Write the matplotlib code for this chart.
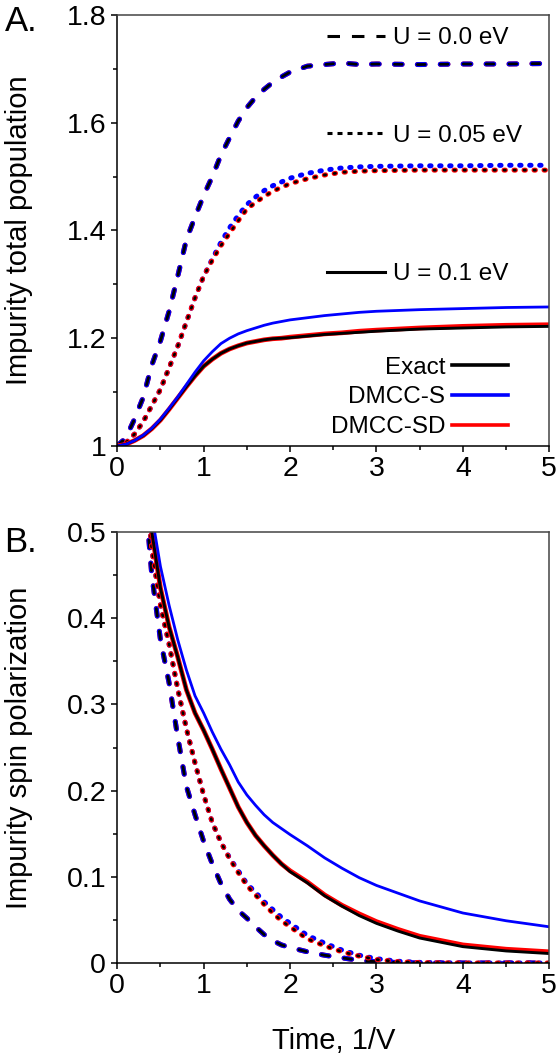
import numpy as np
from matplotlib import pyplot as plt
from matplotlib.lines import Line2D
from matplotlib.ticker import MultipleLocator, FormatStrFormatter

plt.rcParams['font.family'] = ['Liberation Sans', 'DejaVu Sans']
plt.rcParams['lines.scale_dashes'] = False

# Panel A: impurity total population
t_a = [0, 0.1, 0.2, 0.3, 0.4, 0.5, 0.6, 0.7, 0.8, 0.9, 1.0, 1.1, 1.2, 1.3, 1.4,
       1.5, 1.6, 1.7, 1.8, 1.9, 2.0, 2.2, 2.4, 2.6, 2.8, 3.0, 3.5, 4.0, 4.5, 5.0]

pop_u00_exact = [1.0, 1.015, 1.05, 1.09, 1.15, 1.195, 1.25, 1.315, 1.383, 1.425, 1.465, 1.50, 1.54, 1.572, 1.603,
                 1.628, 1.647, 1.662, 1.675, 1.685, 1.694, 1.705, 1.708, 1.711, 1.708, 1.709, 1.708, 1.709, 1.709, 1.710]
pop_u00_s = [1.0, 1.015, 1.05, 1.09, 1.15, 1.195, 1.25, 1.315, 1.383, 1.425, 1.465, 1.50, 1.54, 1.572, 1.603,
             1.628, 1.647, 1.662, 1.675, 1.685, 1.694, 1.705, 1.708, 1.711, 1.708, 1.709, 1.708, 1.709, 1.709, 1.710]
pop_u00_sd = [1.0, 1.015, 1.05, 1.09, 1.15, 1.195, 1.25, 1.315, 1.383, 1.425, 1.465, 1.50, 1.54, 1.572, 1.603,
              1.628, 1.647, 1.662, 1.675, 1.685, 1.694, 1.705, 1.708, 1.711, 1.708, 1.709, 1.708, 1.709, 1.709, 1.710]

pop_u05_exact = [1.0, 1.006, 1.022, 1.045, 1.075, 1.105, 1.145, 1.185, 1.23, 1.275, 1.315, 1.345, 1.372, 1.395, 1.418,
                 1.44, 1.452, 1.463, 1.473, 1.48, 1.487, 1.496, 1.503, 1.508, 1.510, 1.511, 1.512, 1.512, 1.512, 1.512]
pop_u05_s = [1.0, 1.006, 1.022, 1.045, 1.075, 1.105, 1.145, 1.185, 1.23, 1.275, 1.315, 1.347, 1.378, 1.405, 1.428,
             1.448, 1.462, 1.474, 1.483, 1.49, 1.497, 1.506, 1.512, 1.516, 1.518, 1.519, 1.520, 1.520, 1.521, 1.521]
pop_u05_sd = [1.0, 1.006, 1.022, 1.045, 1.075, 1.105, 1.145, 1.185, 1.23, 1.275, 1.315, 1.345, 1.372, 1.395, 1.418,
              1.44, 1.452, 1.463, 1.473, 1.48, 1.487, 1.496, 1.503, 1.508, 1.510, 1.511, 1.512, 1.512, 1.512, 1.512]

pop_u10_exact = [1.0, 1.003, 1.01, 1.019, 1.032, 1.048, 1.068, 1.089, 1.11, 1.13, 1.148, 1.161, 1.172, 1.18, 1.186,
                 1.191, 1.194, 1.197, 1.199, 1.20, 1.201, 1.204, 1.207, 1.209, 1.211, 1.213, 1.217, 1.219, 1.221, 1.222]
pop_u10_s = [1.0, 1.003, 1.01, 1.02, 1.033, 1.05, 1.07, 1.091, 1.114, 1.137, 1.158, 1.175, 1.19, 1.20, 1.208,
             1.214, 1.219, 1.224, 1.228, 1.231, 1.234, 1.238, 1.242, 1.245, 1.248, 1.250, 1.253, 1.255, 1.257, 1.258]
pop_u10_sd = [1.0, 1.003, 1.01, 1.019, 1.032, 1.048, 1.068, 1.089, 1.11, 1.13, 1.148, 1.161, 1.172, 1.18, 1.186,
              1.191, 1.194, 1.197, 1.199, 1.20, 1.202, 1.205, 1.208, 1.21, 1.213, 1.215, 1.219, 1.222, 1.224, 1.225]

# Panel B: impurity spin polarization
t_b = [0.3, 0.4, 0.5, 0.6, 0.7, 0.8, 0.9, 1.0, 1.1, 1.2, 1.3, 1.4, 1.5, 1.6, 1.7, 1.8, 1.9, 2.0,
       2.2, 2.4, 2.6, 2.8, 3.0, 3.25, 3.5, 4.0, 4.5, 5.0]

spin_u00_exact = [0.57, 0.45, 0.375, 0.325, 0.262, 0.205, 0.172, 0.141, 0.115, 0.092, 0.074, 0.061, 0.052, 0.042,
                  0.033, 0.026, 0.021, 0.018, 0.013, 0.009, 0.006, 0.003, 0.0015, 0.0005, 0, 0, 0, 0]
spin_u00_s = [0.57, 0.45, 0.375, 0.325, 0.262, 0.205, 0.172, 0.141, 0.115, 0.092, 0.074, 0.061, 0.052, 0.042,
              0.033, 0.026, 0.021, 0.018, 0.013, 0.009, 0.006, 0.003, 0.0015, 0.0005, 0, 0, 0, 0]
spin_u00_sd = [0.57, 0.45, 0.375, 0.325, 0.262, 0.205, 0.172, 0.141, 0.115, 0.092, 0.074, 0.061, 0.052, 0.042,
               0.033, 0.026, 0.021, 0.018, 0.013, 0.009, 0.006, 0.003, 0.0015, 0.0005, 0, 0, 0, 0]

spin_u05_exact = [0.6, 0.48, 0.415, 0.37, 0.318, 0.272, 0.232, 0.195, 0.163, 0.14, 0.121, 0.105, 0.09, 0.079,
                  0.068, 0.058, 0.049, 0.042, 0.028, 0.02, 0.013, 0.008, 0.004, 0.0015, 0.0005, 0, 0, 0]
spin_u05_s = [0.6, 0.48, 0.415, 0.37, 0.318, 0.272, 0.232, 0.195, 0.163, 0.14, 0.122, 0.107, 0.092, 0.082,
              0.071, 0.062, 0.053, 0.046, 0.032, 0.023, 0.015, 0.009, 0.005, 0.002, 0.0007, 0, 0, 0]
spin_u05_sd = [0.6, 0.48, 0.415, 0.37, 0.318, 0.272, 0.232, 0.195, 0.163, 0.14, 0.121, 0.105, 0.09, 0.079,
               0.068, 0.058, 0.049, 0.042, 0.028, 0.02, 0.013, 0.008, 0.004, 0.0015, 0.0005, 0, 0, 0]

spin_u10_exact = [0.58, 0.50, 0.435, 0.39, 0.355, 0.317, 0.29, 0.27, 0.248, 0.225, 0.203, 0.181, 0.163, 0.148,
                  0.136, 0.125, 0.115, 0.106, 0.093, 0.078, 0.066, 0.055, 0.046, 0.037, 0.029, 0.019, 0.014, 0.011]
spin_u10_s = [0.6, 0.52, 0.46, 0.415, 0.375, 0.34, 0.31, 0.29, 0.268, 0.248, 0.23, 0.21, 0.195, 0.183,
              0.172, 0.163, 0.156, 0.149, 0.136, 0.122, 0.110, 0.099, 0.090, 0.081, 0.072, 0.058, 0.049, 0.042]
spin_u10_sd = [0.58, 0.50, 0.435, 0.39, 0.355, 0.317, 0.29, 0.27, 0.248, 0.225, 0.203, 0.181, 0.163, 0.148,
               0.136, 0.125, 0.115, 0.107, 0.094, 0.079, 0.067, 0.057, 0.048, 0.039, 0.031, 0.021, 0.016, 0.013]

long_dash = (5.5, 11.0)
short_dash = (1.0, 6.2)

fig = plt.figure(figsize=(5.57, 10.55), dpi=100)
ax_a = fig.add_axes([0.2105, 0.5773, 0.7757, 0.4085])
ax_b = fig.add_axes([0.2105, 0.0872, 0.7757, 0.4085])


def draw_set(ax, t, exact, s, sd, dashes):
    if dashes is None:
        ax.plot(t, sd, c='red', lw=3.4)
        ax.plot(t, exact, c='black', lw=2.1)
        ax.plot(t, s, c='blue', lw=2.0)
    else:
        order = [(sd, 'red'), (s, 'blue')] if dashes == long_dash else [(s, 'blue'), (sd, 'red')]
        for y, c in order:
            ax.plot(t, y, c=c, lw=3.6, dashes=dashes, dash_capstyle='round')
        ax.plot(t, exact, c='black', lw=2.0, dashes=dashes, dash_capstyle='round')


draw_set(ax_a, t_a, pop_u00_exact, pop_u00_s, pop_u00_sd, long_dash)
draw_set(ax_a, t_a, pop_u05_exact, pop_u05_s, pop_u05_sd, short_dash)
draw_set(ax_a, t_a, pop_u10_exact, pop_u10_s, pop_u10_sd, None)

draw_set(ax_b, t_b, spin_u00_exact, spin_u00_s, spin_u00_sd, long_dash)
draw_set(ax_b, t_b, spin_u05_exact, spin_u05_s, spin_u05_sd, short_dash)
draw_set(ax_b, t_b, spin_u10_exact, spin_u10_s, spin_u10_sd, None)

ax_a.set_xlim(0, 5)
ax_a.set_ylim(1, 1.8)
ax_a.yaxis.set_major_locator(MultipleLocator(0.2))
ax_a.yaxis.set_minor_locator(MultipleLocator(0.1))
ax_b.set_xlim(0, 5)
ax_b.set_ylim(0, 0.5)
ax_b.yaxis.set_major_locator(MultipleLocator(0.1))
ax_b.yaxis.set_minor_locator(MultipleLocator(0.05))

for ax in (ax_a, ax_b):
    ax.xaxis.set_major_locator(MultipleLocator(1))
    ax.xaxis.set_minor_locator(MultipleLocator(0.5))
    ax.yaxis.set_major_formatter(FormatStrFormatter('%g'))
    ax.tick_params(which='both', direction='out', top=False, right=False, labelsize=20.5, width=1.1)
    ax.tick_params(which='major', length=4.5, pad=3.5)
    ax.tick_params(which='minor', length=3.2)
    ax.tick_params(axis='x', which='major', pad=2.5)
    for side in ('top', 'right'):
        ax.spines[side].set_color('#444444')
    for side in ax.spines:
        ax.spines[side].set_linewidth(1.1)
    ax.yaxis.set_label_coords(-0.194, 0.5)

ax_a.set_ylabel('Impurity total population', fontsize=21)
ax_b.set_ylabel('Impurity spin polarization', fontsize=21)
ax_b.set_xlabel('Time, 1/V', fontsize=21, labelpad=20)

fig.text(0.008, 0.980, 'A.', fontsize=25, va='center')
fig.text(0.008, 0.486, 'B.', fontsize=25, va='center')

# U labels
u_labels = ['U = 0.0 eV', 'U = 0.05 eV', 'U = 0.1 eV']
u_styles = [dict(dashes=(9.0, 8.6)), dict(dashes=(3.6, 3.6)), dict(ls='-')]
u_ypos = [0.946, 0.720, 0.398]
for lab, sty, yp in zip(u_labels, u_styles, u_ypos):
    h = Line2D([], [], c='black', lw=2.2, **sty)
    leg = ax_a.legend([h], [lab], loc='center left', bbox_to_anchor=(0.485, yp), frameon=False,
                      fontsize=17.5, handlelength=2.4, handletextpad=0.33, borderpad=0, borderaxespad=0)
    ax_a.add_artist(leg)

# method labels
method_labels = ['Exact', 'DMCC-S', 'DMCC-SD']
method_colors = ['black', 'blue', 'red']
handles = [Line2D([], [], c=c, lw=2.6) for c in method_colors]
ax_a.legend(handles, method_labels, loc='lower right', bbox_to_anchor=(0.905, 0.018), frameon=False,
            fontsize=17.5, markerfirst=False, handlelength=2.3, handletextpad=0.3, labelspacing=0.32,
            borderpad=0, borderaxespad=0)

plt.savefig('out.png', dpi=100)
